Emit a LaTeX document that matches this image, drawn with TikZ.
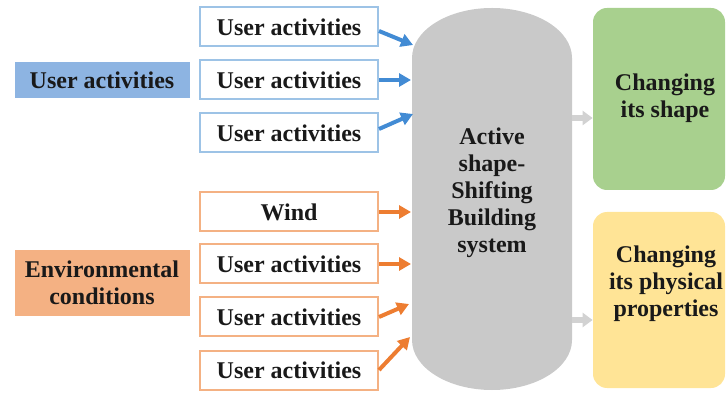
\documentclass[tikz,border=0pt]{standalone}
\usepackage{fontspec}
\setmainfont{Liberation Serif}
\usetikzlibrary{arrows.meta}
\definecolor{ublue}{RGB}{66,139,212}
\definecolor{ubluel}{RGB}{157,195,230}
\definecolor{ubluef}{RGB}{141,180,226}
\definecolor{eorange}{RGB}{237,125,49}
\definecolor{eorangel}{RGB}{244,177,131}
\definecolor{sysgray}{RGB}{201,201,201}
\definecolor{arrgray}{RGB}{210,210,210}
\definecolor{shapegreen}{RGB}{168,208,142}
\definecolor{propyellow}{RGB}{255,228,150}
\definecolor{ink}{RGB}{25,25,25}

\begin{document}
\begin{tikzpicture}[x=0.5pt,y=-0.5pt,text=ink,
	font=\bfseries\fontsize{12}{13.5}\selectfont,
	inbox/.style={draw,line width=1pt,fill=white,minimum width=89pt,minimum height=19.5pt,inner sep=0pt},
	ubox/.style={inbox,draw=ubluel},
	ebox/.style={inbox,draw=eorangel},
	groupbox/.style={inner sep=0pt,minimum width=87.5pt,align=center},
	outbox/.style={rounded corners=7pt,minimum width=66pt,inner sep=0pt},
	bluearr/.style={ublue,line width=2pt,-{Triangle[length=6pt,width=6.5pt]}},
	orangearr/.style={eorange,line width=2pt,-{Triangle[length=6pt,width=6.5pt]}},
	grayarr/.style={arrgray,line width=3pt,-{Triangle[length=5pt,width=7pt]}}]
\useasboundingbox (0,0) rectangle (726,394);
%groups
\node[groupbox,fill=ubluef,minimum height=18pt] (users) at (102,80) {User activities};
\node[groupbox,fill=eorangel,minimum height=33pt] (envs) at (102,283) {Environmental\\conditions};
%inputs
\node[ubox] (u1) at (289,27) {User activities};
\node[ubox] (u2) at (289,80) {User activities};
\node[ubox] (u3) at (289,133) {User activities};
\node[ebox] (e1) at (289,212) {Wind};
\node[ebox] (e2) at (289,264) {User activities};
\node[ebox] (e3) at (289,317) {User activities};
\node[ebox] (e4) at (289,370) {User activities};
%system (pill with elliptic ends)
\node[minimum width=80pt,minimum height=191pt,inner sep=0pt] (sys) at (492,199) {};
\fill[sysgray] (412,58) .. controls (412,30.4) and (447.8,8) .. (492,8)
	.. controls (536.2,8) and (572,30.4) .. (572,58) -- (572,340)
	.. controls (572,367.6) and (536.2,390) .. (492,390)
	.. controls (447.8,390) and (412,367.6) .. (412,340) -- cycle;
\node[align=center] (systxt) at (492,193) {Active\\shape-\\Shifting\\Building\\system};
%outputs
\node[outbox,fill=shapegreen,minimum height=91pt] (shape) at (659,99) {};
\node[align=center] at (665,98) {Changing\\its shape};
\node[outbox,fill=propyellow,minimum height=88pt] (props) at (659,300) {};
\node[align=center] at (666,284) {Changing\\its physical\\properties};
%arrows
\coordinate (t1) at (413,45);
\coordinate (t2) at (411,80);
\coordinate (t3) at (413,114);
\coordinate (t4) at (411,212);
\coordinate (t5) at (411,264);
\coordinate (t6) at (409,304);
\coordinate (t7) at (410,337);
\draw[bluearr] ([yshift=-2pt]u1.east) -- (t1);
\draw[bluearr] (u2.east) -- (t2);
\draw[bluearr] ([yshift=2pt]u3.east) -- (t3);
\draw[orangearr] (e1.east) -- (t4);
\draw[orangearr] (e2.east) -- (t5);
\draw[orangearr] (e3.east) -- (t6);
\draw[orangearr] (e4.east) -- (t7);
\draw[grayarr] (sys.east |- 0,118) -- (shape.west |- 0,118);
\draw[grayarr] (sys.east |- 0,320) -- (props.west |- 0,320);
\end{tikzpicture}
\end{document}
